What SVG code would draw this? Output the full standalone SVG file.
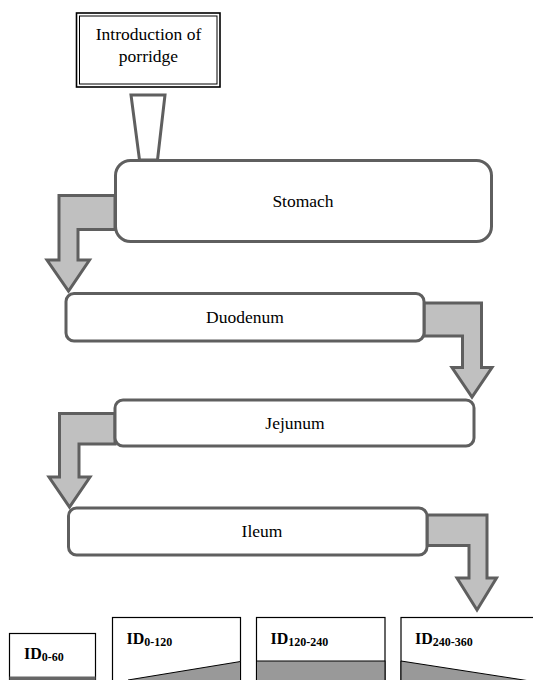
<svg xmlns="http://www.w3.org/2000/svg" width="533" height="680" viewBox="0 0 533 680">
<style>
.lbl{font-family:"Liberation Serif","Times New Roman",serif;font-size:17.5px;fill:#000;text-anchor:middle}
.node{fill:#fff;stroke:#5f5f5f;stroke-width:3}
.arrow{fill:#c0c0c0;stroke:#5f5f5f;stroke-width:3;stroke-linejoin:miter}
.bin{fill:#fff;stroke:#000;stroke-width:1.2}
.fillg{fill:#999;stroke:#000;stroke-width:1}
.id{font-family:"Liberation Serif","Times New Roman",serif;font-weight:bold;font-size:16px;fill:#000}
.sub{font-size:12px}
</style>
<rect width="533" height="680" fill="#fff"/>
<g id="intro">
<rect x="76.5" y="13" width="143.5" height="74" fill="#fff" stroke="#000" stroke-width="1.6"/>
<rect x="79.5" y="16" width="137.5" height="68" fill="none" stroke="#000" stroke-width="1"/>
<text class="lbl" x="148.5" y="39.5">Introduction of</text>
<text class="lbl" x="148.5" y="61.5">porridge</text>
</g>
<g id="connectors">
<polygon points="131,95 165,95 157.5,160 139.5,160" fill="#fff" stroke="#5f5f5f" stroke-width="3"/>
<polygon class="arrow" points="115,195.5 59,195.5 59,260 47,260 68.5,291 89.5,260 78,260 78,229.5 115,229.5"/>
<polygon class="arrow" points="424,303 481.5,303 481.5,367.5 492,367.5 472,397 452,367.5 462.5,367.5 462.5,336 424,336"/>
<polygon class="arrow" points="115,413.5 59.5,413.5 59.5,477 49,477 69.5,507 90,477 79,477 79,444 115,444"/>
<polygon class="arrow" points="427,515 487,515 487,578 496.5,578 477,610 457,578 469,578 469,545.5 427,545.5"/>
</g>
<g id="stomach">
<rect class="node" x="115.5" y="160.5" width="376" height="81" rx="15"/>
<text class="lbl" x="303" y="207">Stomach</text>
</g>
<g id="duodenum">
<rect class="node" x="66" y="293.5" width="358" height="47.5" rx="8"/>
<text class="lbl" x="245" y="322.5">Duodenum</text>
</g>
<g id="jejunum">
<rect class="node" x="115" y="400" width="359" height="46" rx="8"/>
<text class="lbl" x="295" y="428.5">Jejunum</text>
</g>
<g id="ileum">
<rect class="node" x="68.5" y="508" width="358.5" height="47" rx="8"/>
<text class="lbl" x="262" y="536.5">Ileum</text>
</g>
<g id="id0-60">
<rect class="bin" x="9.5" y="633.5" width="86" height="60"/>
<rect x="9.5" y="676.5" width="86" height="5" fill="#666"/>
<text class="id" x="24" y="658.5">ID<tspan class="sub" dy="2">0-60</tspan></text>
</g>
<g id="id0-120">
<rect class="bin" x="112.5" y="617.5" width="128" height="70"/>
<polygon class="fillg" points="128,680 240.5,661.5 240.5,690 128,690"/>
<text class="id" x="126.5" y="643.5">ID<tspan class="sub" dy="2">0-120</tspan></text>
</g>
<g id="id120-240">
<rect class="bin" x="256.5" y="617.5" width="128.5" height="70"/>
<rect class="fillg" x="256.5" y="661" width="128.5" height="30"/>
<text class="id" x="270.5" y="643.5">ID<tspan class="sub" dy="2">120-240</tspan></text>
</g>
<g id="id240-360">
<rect class="bin" x="401" y="617.5" width="140" height="70"/>
<polygon class="fillg" points="401,661 530,681 530,690 401,690"/>
<text class="id" x="415" y="643.5">ID<tspan class="sub" dy="2">240-360</tspan></text>
</g>
</svg>
